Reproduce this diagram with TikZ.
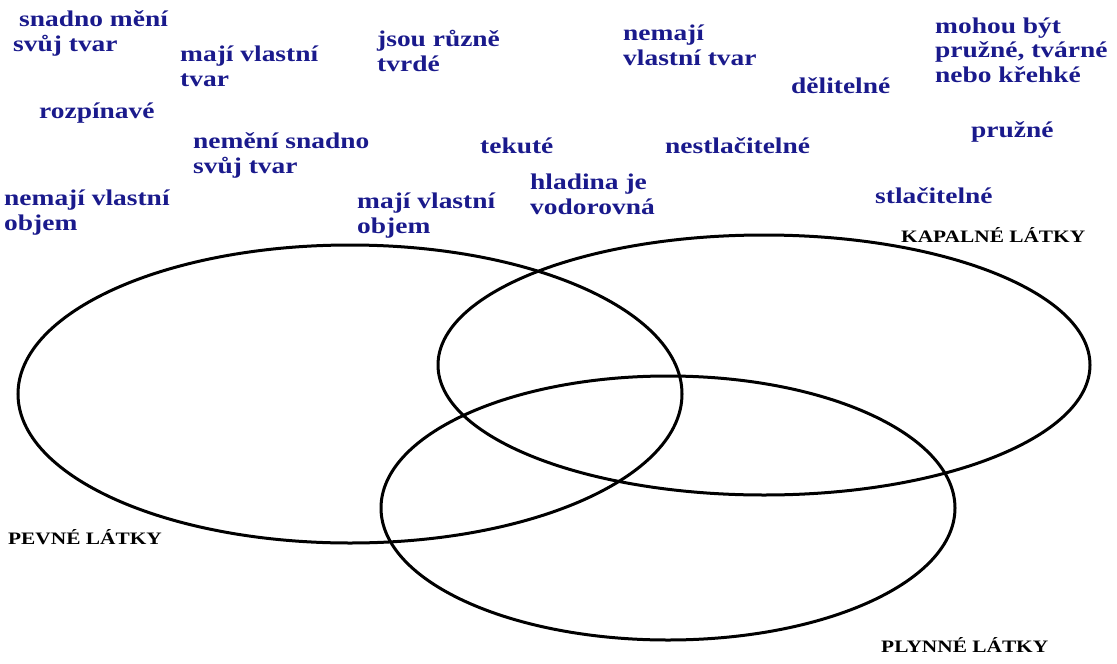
\documentclass[tikz,border=0pt]{standalone}
\usepackage{fontspec}
\newfontfamily\popisfont{Liberation Serif}[FakeStretch=1.22]
\definecolor{tmavemodra}{RGB}{26,26,140}

\begin{document}
\begin{tikzpicture}[x=1pt, y=-1pt,
    vlastnost/.style={anchor=base west, inner sep=0pt, align=left, text=tmavemodra,
        font=\popisfont\bfseries\fontsize{22.5}{24.5}\selectfont},
    latka/.style={anchor=base west, inner sep=0pt,
        font=\popisfont\bfseries\fontsize{17.5}{20}\selectfont},
    kruh/.style={line width=3pt}]
    \useasboundingbox (0,0) rectangle (1117,664);

    \draw [kruh] (350,394) ellipse [x radius=332pt, y radius=149pt];
    \draw [kruh] (764,365) ellipse [x radius=326pt, y radius=130pt];
    \draw [kruh] (668,508) ellipse [x radius=287pt, y radius=132pt];

    \node [latka] (pevne) at (8,544) {PEVNÉ LÁTKY};
    \node [latka] (kapalne) at (901,242) {KAPALNÉ LÁTKY};
    \node [latka] (plynne) at (881,652) {PLYNNÉ LÁTKY};

    % u viceradkovych popisku je base na poslednim radku
    \node [vlastnost] (snadno) at (19,51) {snadno mění\\\hspace*{-6pt}svůj tvar};
    \node [vlastnost] (tvar) at (180,86) {mají vlastní\\tvar};
    \node [vlastnost] (tvrde) at (377,71) {jsou různě\\tvrdé};
    \node [vlastnost] (netvar) at (623,65) {nemají\\vlastní tvar};
    \node [vlastnost] (mohou) at (935,82) {mohou být\\pružné, tvárné\\nebo křehké};
    \node [vlastnost] (delitelne) at (791,93) {dělitelné};
    \node [vlastnost] (rozpinave) at (39,118) {rozpínavé};
    \node [vlastnost] (nemeni) at (193,173) {nemění snadno\\svůj tvar};
    \node [vlastnost] (tekute) at (480,153) {tekuté};
    \node [vlastnost] (nestlac) at (665,153) {nestlačitelné};
    \node [vlastnost] (pruzne) at (971,137) {pružné};
    \node [vlastnost] (neobjem) at (4,230) {nemají vlastní\\objem};
    \node [vlastnost] (objem) at (357,233) {mají vlastní\\objem};
    \node [vlastnost] (hladina) at (530,214) {hladina je\\vodorovná};
    \node [vlastnost] (stlac) at (875,203) {stlačitelné};
\end{tikzpicture}
\end{document}
